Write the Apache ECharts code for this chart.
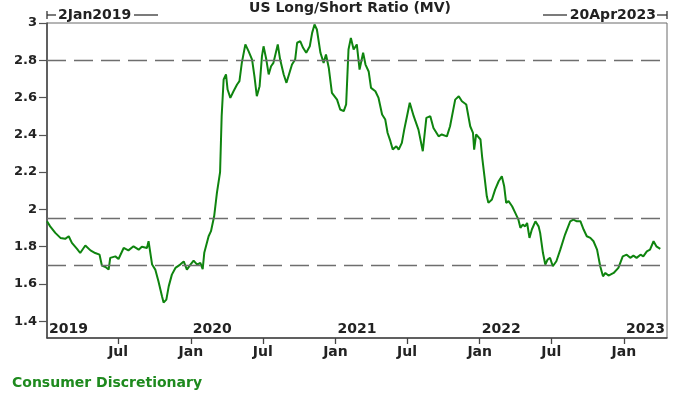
<!DOCTYPE html>
<html>
<head>
<meta charset="utf-8">
<script src="https://cdn.jsdelivr.net/npm/echarts@6/dist/echarts.min.js"></script>
<style>
html,body{margin:0;padding:0;background:#fff;}
#chart{width:700px;height:394px;}
</style>
</head>
<body>
<div id="chart"></div>
<script>
var titleText = 'US Long/Short Ratio (MV)';
var startLabel = '2Jan2019';
var endLabel = '20Apr2023';
var footerText = 'Consumer Discretionary';
var axisMin = '2019-01-02';
var axisMax = '2023-04-20';

var dates = [
'2019-01-02','2019-01-10','2019-01-23','2019-02-05','2019-02-17','2019-02-26','2019-03-06','2019-03-19','2019-03-27','2019-04-09',
'2019-04-22','2019-05-04','2019-05-15','2019-05-21','2019-05-30','2019-06-07','2019-06-11','2019-06-24','2019-07-02','2019-07-15',
'2019-07-27','2019-08-09','2019-08-22','2019-08-30','2019-09-12','2019-09-16','2019-09-20','2019-09-25','2019-10-03','2019-10-11',
'2019-10-20','2019-10-24','2019-10-31','2019-11-06','2019-11-14','2019-11-23','2019-12-05','2019-12-14','2019-12-22','2019-12-31',
'2020-01-08','2020-01-17','2020-01-25','2020-01-31','2020-02-04','2020-02-15','2020-02-21','2020-02-26','2020-02-29','2020-03-07',
'2020-03-15','2020-03-19','2020-03-24','2020-03-30','2020-04-03','2020-04-10','2020-04-18','2020-04-27','2020-05-03','2020-05-09',
'2020-05-18','2020-05-26','2020-06-04','2020-06-10','2020-06-16','2020-06-23','2020-06-29','2020-07-03','2020-07-10','2020-07-16',
'2020-07-22','2020-07-28','2020-08-08','2020-08-14','2020-08-23','2020-08-30','2020-09-04','2020-09-13','2020-09-21','2020-09-26',
'2020-10-04','2020-10-11','2020-10-19','2020-10-28','2020-11-03','2020-11-09','2020-11-15','2020-11-24','2020-12-02','2020-12-08',
'2020-12-15','2020-12-23',
'2021-01-05','2021-01-13','2021-01-22','2021-01-28','2021-02-03','2021-02-09','2021-02-16','2021-02-24','2021-03-03','2021-03-12',
'2021-03-18','2021-03-26','2021-04-01','2021-04-12','2021-04-20','2021-04-29','2021-05-07','2021-05-13','2021-05-20','2021-05-26',
'2021-06-04','2021-06-10','2021-06-18','2021-06-24','2021-07-01','2021-07-08','2021-07-18','2021-07-30','2021-08-10','2021-08-19',
'2021-08-29','2021-09-06','2021-09-19','2021-09-27','2021-10-10','2021-10-18','2021-10-31','2021-11-09','2021-11-17','2021-11-28',
'2021-12-08','2021-12-15','2021-12-18','2021-12-23',
'2022-01-03','2022-01-07','2022-01-13','2022-01-19','2022-01-23','2022-02-01','2022-02-09','2022-02-18','2022-02-26','2022-03-04',
'2022-03-09','2022-03-15','2022-03-24','2022-04-01','2022-04-09','2022-04-14','2022-04-20','2022-04-26','2022-05-01','2022-05-07',
'2022-05-13','2022-05-22','2022-05-30','2022-06-03','2022-06-10','2022-06-16','2022-06-22','2022-06-28','2022-07-05','2022-07-14',
'2022-07-24','2022-08-05','2022-08-18','2022-08-26','2022-09-04','2022-09-13','2022-09-21','2022-09-29','2022-10-08','2022-10-16',
'2022-10-25','2022-11-02','2022-11-09','2022-11-15','2022-11-23','2022-12-06','2022-12-18','2022-12-29',
'2023-01-08','2023-01-17','2023-01-25','2023-02-02','2023-02-12','2023-02-19','2023-02-28','2023-03-08','2023-03-17','2023-03-24',
'2023-04-03'
];

var ratio = [
1.936,1.909,1.874,1.847,1.842,1.856,1.82,1.788,1.766,1.806,
1.78,1.766,1.757,1.698,1.691,1.677,1.74,1.748,1.734,1.793,
1.78,1.802,1.784,1.80,1.793,1.829,1.82,1.704,1.677,1.614,
1.534,1.50,1.516,1.587,1.65,1.686,1.704,1.721,1.677,1.704,
1.725,1.704,1.713,1.68,1.767,1.856,1.883,1.892,1.963,2.089,
2.2,2.5,2.697,2.724,2.643,2.598,2.634,2.67,2.688,2.786,
2.885,2.849,2.804,2.714,2.607,2.661,2.822,2.875,2.804,2.724,
2.768,2.786,2.885,2.804,2.724,2.679,2.714,2.777,2.804,2.894,
2.902,2.867,2.84,2.875,2.947,2.992,2.965,2.84,2.786,2.831,
2.76,2.625,
2.589,2.536,2.527,2.563,2.858,2.92,2.858,2.885,2.75,2.84,
2.777,2.74,2.652,2.634,2.598,2.509,2.482,2.41,2.366,2.321,
2.339,2.321,2.357,2.428,2.5,2.572,2.5,2.428,2.312,2.491,
2.5,2.437,2.392,2.402,2.392,2.446,2.589,2.607,2.58,2.563,
2.446,2.411,2.321,2.402,
2.375,2.285,2.178,2.07,2.035,2.053,2.106,2.151,2.178,2.124,
2.035,2.044,2.017,1.981,1.945,1.901,1.918,1.909,1.927,1.847,
1.892,1.936,1.909,1.874,1.767,1.704,1.731,1.74,1.695,1.722,
1.784,1.865,1.936,1.945,1.936,1.936,1.892,1.856,1.847,1.829,
1.784,1.695,1.641,1.659,1.645,1.659,1.686,1.748,
1.757,1.74,1.752,1.74,1.757,1.748,1.775,1.784,1.829,1.802,
1.788
];

var refLevels = [2.8, 1.945, 1.70];
var yTicks = [1.4, 1.6, 1.8, 2.0, 2.2, 2.4, 2.6, 2.8, 3.0];
var monthTicks = ['2019-07-01','2020-01-01','2020-07-01','2021-01-01','2021-07-01','2022-01-01','2022-07-01','2023-01-01'];
var yearTicks = ['2019-01-02','2020-01-01','2021-01-01','2022-01-01','2023-01-01'];

function ts(s){ var p = s.split('-'); return new Date(+p[0], +p[1]-1, +p[2]).getTime(); }

var chart = echarts.init(document.getElementById('chart'), null, {renderer:'canvas'});
var FONT = 'DejaVu Sans';
var GREEN = '#0f840f';

var option = {
  animation: false,
  backgroundColor: '#fff',
  grid: { left: 47, right: 33, top: 23, bottom: 56, show: true, borderColor: '#6a6a6a', borderWidth: 1, backgroundColor: 'transparent' },
  xAxis: [{
    type: 'value',
    min: ts(axisMin), max: ts(axisMax),
    axisLine: { show: true, lineStyle: { color: '#444', width: 1.5 } },
    axisTick: { show: true, length: 6, lineStyle: { color: '#444', width: 1.3 }, customValues: monthTicks.map(ts) },
    axisLabel: {
      show: true, margin: 7, customValues: monthTicks.map(ts),
      fontFamily: FONT, fontWeight: 'bold', fontSize: 14, color: '#222',
      formatter: function(v){ return new Date(v).getMonth() === 0 ? 'Jan' : 'Jul'; }
    },
    splitLine: { show: false }
  }, {
    type: 'value',
    position: 'bottom',
    min: ts(axisMin), max: ts(axisMax),
    axisLine: { show: false },
    axisTick: { show: false },
    axisLabel: {
      show: true, inside: true, margin: 2, align: 'left', customValues: yearTicks.map(ts),
      fontFamily: FONT, fontWeight: 'bold', fontSize: 14, color: '#222', padding: [0,0,0,2],
      formatter: function(v){ return String(new Date(v).getFullYear()); }
    },
    splitLine: { show: false }
  }],
  yAxis: {
    type: 'value',
    min: 1.31, max: 3,
    axisLine: { show: true, lineStyle: { color: '#444', width: 1.5 } },
    axisTick: { show: true, length: 8, lineStyle: { color: '#555', width: 1.2 }, customValues: yTicks },
    axisLabel: {
      show: true, margin: 10, customValues: yTicks,
      fontFamily: FONT, fontWeight: 'bold', fontSize: 13, color: '#222',
      formatter: function(v){ return String(Math.round(v*10)/10); }
    },
    splitLine: { show: false }
  },
  graphic: [
    { type: 'text', left: 'center', top: 1, style: { text: titleText, font: 'bold 14px "DejaVu Sans"', fill: '#222' } },
    { type: 'text', x: 58, y: 15, style: { text: startLabel, font: 'bold 14px "DejaVu Sans"', fill: '#222', verticalAlign: 'middle', align: 'left' } },
    { type: 'text', x: 656, y: 15, style: { text: endLabel, font: 'bold 14px "DejaVu Sans"', fill: '#222', verticalAlign: 'middle', align: 'right' } },
    { type: 'line', shape: { x1: 47, y1: 11, x2: 47, y2: 19 }, style: { stroke: '#333', lineWidth: 1.3 } },
    { type: 'line', shape: { x1: 47, y1: 15, x2: 56, y2: 15 }, style: { stroke: '#333', lineWidth: 1.3 } },
    { type: 'line', shape: { x1: 134, y1: 15, x2: 158, y2: 15 }, style: { stroke: '#333', lineWidth: 1.3 } },
    { type: 'line', shape: { x1: 543, y1: 15, x2: 567, y2: 15 }, style: { stroke: '#333', lineWidth: 1.3 } },
    { type: 'line', shape: { x1: 657, y1: 15, x2: 667, y2: 15 }, style: { stroke: '#333', lineWidth: 1.3 } },
    { type: 'line', shape: { x1: 667, y1: 11, x2: 667, y2: 19 }, style: { stroke: '#333', lineWidth: 1.3 } },
    { type: 'text', x: 12, y: 383, style: { text: footerText, font: 'bold 14px "DejaVu Sans"', fill: '#1e8a1e', verticalAlign: 'middle' } }
  ],
  series: [{
    type: 'line',
    xAxisIndex: 0,
    data: dates.map(function(d, i){ return [ts(d), ratio[i]]; }),
    showSymbol: false,
    symbol: 'none',
    lineStyle: { color: GREEN, width: 2 },
    markLine: {
      silent: true, symbol: 'none', label: { show: false },
      lineStyle: { color: '#6e6e6e', type: [19, 8], width: 1.3 },
      data: refLevels.map(function(v){ return { yAxis: v }; })
    },
    z: 3
  }]
};
chart.setOption(option);
</script>
</body>
</html>
